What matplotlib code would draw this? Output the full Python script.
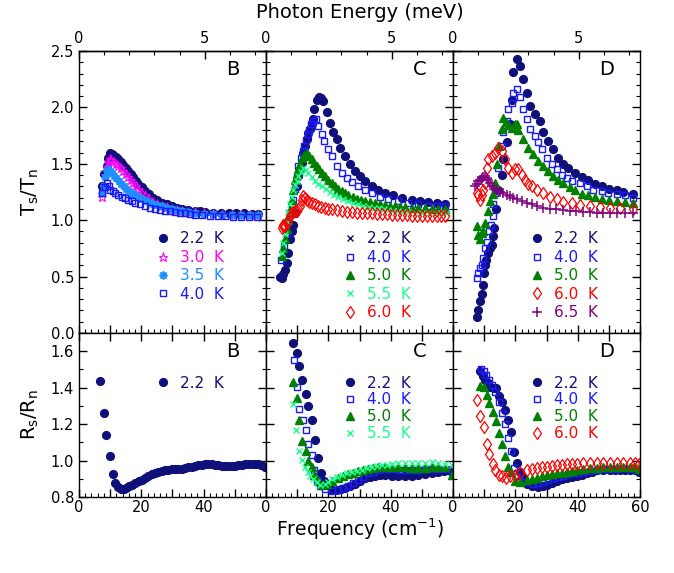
import numpy as np
import matplotlib.pyplot as plt
from matplotlib.lines import Line2D
from matplotlib.ticker import MultipleLocator

CM_PER_MEV = 8.0655   # 1 meV in cm^-1

# ---------------- Transmission ratio Ts/Tn ----------------
# panel B
b22_x = [7.5, 8.1, 8.9, 9.4, 9.95, 10.5, 11.0, 11.8, 12.6, 13.4, 14.2, 15.0, 15.8, 16.6, 17.4, 18.2, 19.0, 20.1, 21.2,
         22.5, 23.8, 25.1, 26.5, 28.1, 29.7, 31.3, 33.0, 35.1, 37.2, 38.8, 40.4, 43.0, 45.5, 48.0, 50.5, 53.0, 55.5, 57.5]
b22_y = [1.30, 1.41, 1.48, 1.55, 1.60, 1.59, 1.58, 1.56, 1.54, 1.515, 1.49, 1.46, 1.435, 1.41, 1.38, 1.35, 1.32, 1.29,
         1.26, 1.23, 1.20, 1.175, 1.155, 1.14, 1.125, 1.11, 1.10, 1.09, 1.085, 1.078, 1.07, 1.068, 1.065, 1.063, 1.06,
         1.06, 1.058, 1.055]
b30_x = [7.5, 8.0, 8.5, 8.9, 9.4, 9.9, 10.4, 11.0, 11.8, 12.6, 13.4, 14.2, 15.0, 15.8, 16.6, 17.4, 18.2, 19.0, 20.1,
         21.2, 22.5, 23.8, 25.1, 26.5, 28.1, 29.7, 31.3, 33.0, 35.1, 37.2, 40.0, 43.0, 46.0, 49.0, 52.0, 55.0, 57.5]
b30_y = [1.21, 1.30, 1.40, 1.47, 1.52, 1.54, 1.53, 1.52, 1.50, 1.48, 1.46, 1.435, 1.41, 1.38, 1.355, 1.33, 1.30,
         1.275, 1.245, 1.22, 1.19, 1.165, 1.145, 1.13, 1.115, 1.10, 1.09, 1.08, 1.075, 1.07, 1.06, 1.055, 1.05, 1.05,
         1.045, 1.045, 1.045]
b35_x = [7.5, 7.9, 8.4, 8.9, 9.4, 9.9, 10.5, 11.2, 12.0, 12.8, 13.6, 14.4, 15.2, 16.0, 17.0, 18.0, 19.0, 20.1, 21.2,
         22.5, 23.8, 25.1, 26.5, 28.1, 29.7, 31.3, 33.0, 35.1, 37.2, 40.0, 43.0, 46.0, 49.0, 52.0, 55.0, 57.5]
b35_y = [1.24, 1.30, 1.38, 1.44, 1.45, 1.44, 1.42, 1.395, 1.37, 1.345, 1.32, 1.30, 1.28, 1.26, 1.24, 1.22, 1.205,
         1.19, 1.175, 1.16, 1.145, 1.135, 1.125, 1.11, 1.10, 1.09, 1.08, 1.072, 1.065, 1.058, 1.053, 1.05, 1.048,
         1.046, 1.045, 1.045]
b40_x = [7.5, 8.2, 8.9, 9.5, 10.0, 10.8, 11.6, 12.6, 13.7, 14.7, 15.8, 16.9, 18.0, 19.6, 21.2, 22.8, 24.4, 26.0,
         27.6, 29.2, 30.8, 32.4, 34.0, 35.6, 37.2, 39.5, 42.0, 44.5, 47.0, 49.5, 52.0, 54.5, 57.0]
b40_y = [1.24, 1.29, 1.33, 1.30, 1.27, 1.255, 1.24, 1.225, 1.21, 1.195, 1.18, 1.168, 1.155, 1.14, 1.125, 1.112,
         1.10, 1.092, 1.085, 1.078, 1.07, 1.065, 1.06, 1.055, 1.05, 1.045, 1.04, 1.037, 1.035, 1.032, 1.03, 1.03, 1.03]

# panel C
c22_x = [4.5, 5.0, 5.6, 6.2, 6.7, 7.2, 7.7, 8.3, 8.8, 9.3, 9.85, 10.4, 11.0, 11.5, 12.0, 12.6, 13.1, 13.6, 14.1,
         14.7, 15.2, 15.5, 16.3, 17.0, 17.7, 18.4, 19.5, 20.5, 21.6, 22.7, 23.7, 25.3, 27.0, 28.6, 30.2, 31.8, 33.9,
         36.0, 38.2, 40.8, 43.5, 46.8, 49.4, 52.1, 54.8, 57.4]
c22_y = [0.50, 0.49, 0.52, 0.56, 0.62, 0.71, 0.83, 0.90, 0.96, 1.065, 1.30, 1.39, 1.45, 1.51, 1.60, 1.66, 1.72,
         1.77, 1.81, 1.85, 1.895, 1.985, 2.07, 2.09, 2.08, 2.06, 1.955, 1.865, 1.78, 1.72, 1.64, 1.57, 1.495, 1.435,
         1.39, 1.345, 1.30, 1.27, 1.24, 1.22, 1.20, 1.18, 1.17, 1.16, 1.155, 1.145]
c40_x = [4.8, 5.7, 6.6, 7.2, 7.7, 8.3, 8.8, 9.3, 9.85, 10.4, 11.2, 11.8, 12.3, 12.9, 13.4, 13.9, 14.4, 15.2, 15.9,
         16.8, 17.9, 18.7, 20.0, 21.1, 22.7, 24.3, 25.9, 27.5, 29.6, 31.8, 33.9, 36.6, 39.3, 42.5, 45.7, 48.9, 52.1,
         54.8, 57.4]
c40_y = [0.65, 0.77, 0.89, 0.98, 1.065, 1.12, 1.18, 1.28, 1.39, 1.48, 1.55, 1.61, 1.66, 1.71, 1.76, 1.80, 1.85,
         1.88, 1.895, 1.835, 1.76, 1.70, 1.63, 1.57, 1.48, 1.42, 1.375, 1.34, 1.30, 1.27, 1.245, 1.21, 1.19, 1.17,
         1.155, 1.14, 1.13, 1.125, 1.125]
c50_x = [5.0, 5.5, 6.1, 6.6, 7.2, 7.7, 8.2, 8.8, 9.3, 9.85, 10.4, 11.0, 11.5, 12.3, 13.1, 13.9, 14.7, 15.5, 16.3,
         17.1, 17.9, 19.0, 20.0, 21.1, 22.1, 23.2, 24.3, 25.3, 26.4, 27.8, 29.1, 30.5, 31.8, 33.4, 35.0, 36.6, 38.2,
         39.8, 41.4, 43.0, 44.7, 46.8, 48.9, 51.0, 53.1, 55.2, 57.4]
c50_y = [0.68, 0.75, 0.83, 0.92, 1.005, 1.09, 1.18, 1.27, 1.36, 1.41, 1.45, 1.50, 1.55, 1.58, 1.60, 1.57, 1.54,
         1.51, 1.48, 1.45, 1.42, 1.39, 1.36, 1.33, 1.30, 1.28, 1.255, 1.24, 1.225, 1.205, 1.19, 1.18, 1.17, 1.16,
         1.15, 1.142, 1.135, 1.13, 1.125, 1.12, 1.115, 1.112, 1.11, 1.105, 1.10, 1.098, 1.095]
c55_x = [5.0, 5.6, 6.1, 6.7, 7.2, 7.7, 8.2, 8.8, 9.3, 9.85, 10.4, 11.2, 12.0, 12.8, 13.6, 14.6, 15.7, 16.8, 17.9,
         19.2, 20.5, 21.8, 23.2, 24.8, 26.4, 28.0, 29.6, 31.2, 32.9, 34.5, 36.1, 37.7, 39.3, 40.9, 42.5, 44.1, 45.7,
         47.8, 50.0, 52.2, 54.3, 56.2, 58.0]
c55_y = [0.71, 0.80, 0.88, 0.98, 1.07, 1.14, 1.21, 1.27, 1.31, 1.35, 1.39, 1.43, 1.465, 1.445, 1.42, 1.38, 1.345,
         1.32, 1.30, 1.275, 1.25, 1.225, 1.205, 1.185, 1.17, 1.155, 1.14, 1.13, 1.12, 1.11, 1.105, 1.098, 1.09,
         1.085, 1.08, 1.075, 1.07, 1.067, 1.065, 1.062, 1.06, 1.06, 1.06]
c60_x = [5.0, 5.3, 5.6, 6.1, 6.6, 7.2, 7.7, 8.2, 8.8, 9.3, 9.85, 10.4, 11.0, 11.5, 12.0, 12.6, 13.1, 13.9, 14.7,
         15.7, 16.8, 17.8, 18.9, 20.0, 21.1, 22.7, 24.3, 25.9, 27.5, 29.1, 30.8, 32.3, 33.9, 35.5, 37.1, 38.7, 40.3,
         41.9, 43.5, 45.1, 46.8, 48.4, 50.0, 51.6, 53.1, 54.8, 56.1, 57.4]
c60_y = [0.93, 0.96, 0.945, 0.95, 0.98, 1.005, 1.04, 1.065, 1.075, 1.08, 1.085, 1.095, 1.13, 1.18, 1.215, 1.195,
         1.18, 1.165, 1.155, 1.14, 1.125, 1.115, 1.11, 1.10, 1.095, 1.088, 1.08, 1.075, 1.07, 1.068, 1.065, 1.062,
         1.06, 1.058, 1.055, 1.052, 1.05, 1.048, 1.045, 1.043, 1.04, 1.038, 1.035, 1.035, 1.035, 1.035, 1.035, 1.035]

# panel D
d22_x = [7.8, 8.1, 8.7, 9.2, 9.5, 9.95, 10.2, 10.6, 11.3, 11.9, 12.4, 12.9, 13.2, 13.8, 14.5, 15.6, 16.1, 17.2,
         18.3, 18.8, 19.4, 20.4, 21.5, 22.6, 23.6, 24.7, 26.3, 27.9, 29.0, 30.6, 32.2, 33.8, 35.4, 37.0, 39.2, 41.3,
         43.4, 45.6, 47.7, 50.2, 52.5, 54.6, 57.9]
d22_y = [0.145, 0.205, 0.28, 0.35, 0.43, 0.53, 0.60, 0.65, 0.71, 0.75, 0.78, 0.86, 0.93, 1.095, 1.27, 1.40, 1.54,
         1.69, 1.85, 2.07, 2.31, 2.43, 2.37, 2.25, 2.13, 2.01, 1.94, 1.88, 1.78, 1.70, 1.63, 1.555, 1.495, 1.465,
         1.42, 1.38, 1.355, 1.325, 1.30, 1.28, 1.265, 1.25, 1.23]
d40_x = [7.6, 8.0, 8.7, 9.2, 9.7, 10.3, 11.0, 11.6, 12.1, 12.7, 12.9, 13.5, 14.5, 15.6, 16.1, 17.2, 17.7, 18.8,
         19.4, 20.6, 21.5, 22.6, 23.6, 24.7, 26.3, 27.4, 28.5, 30.1, 31.7, 33.3, 34.9, 36.5, 38.1, 40.8, 42.9, 45.0,
         47.7, 49.8, 52.5, 55.2, 57.9]
d40_y = [0.485, 0.53, 0.575, 0.60, 0.665, 0.755, 0.81, 0.90, 0.96, 1.035, 1.14, 1.24, 1.465, 1.66, 1.78, 1.88,
         1.985, 2.04, 2.13, 2.16, 2.09, 1.985, 1.895, 1.805, 1.745, 1.69, 1.63, 1.555, 1.495, 1.455, 1.405, 1.375,
         1.35, 1.33, 1.30, 1.27, 1.255, 1.24, 1.23, 1.22, 1.20]
d50_x = [7.6, 8.1, 8.7, 9.2, 9.7, 10.3, 11.3, 11.9, 12.7, 13.5, 14.0, 14.8, 15.6, 16.1, 16.9, 17.7, 18.8, 19.9,
         20.4, 21.0, 22.6, 24.2, 25.8, 27.4, 29.0, 30.6, 32.2, 33.8, 35.4, 37.5, 39.2, 41.3, 43.4, 45.6, 47.7, 50.2,
         52.5, 55.2, 57.9]
d50_y = [0.945, 0.87, 0.83, 0.89, 0.90, 0.975, 1.08, 1.17, 1.23, 1.33, 1.495, 1.66, 1.805, 1.91, 1.87, 1.84,
         1.82, 1.85, 1.85, 1.80, 1.72, 1.64, 1.585, 1.525, 1.48, 1.435, 1.39, 1.36, 1.33, 1.295, 1.27, 1.23, 1.22,
         1.21, 1.19, 1.18, 1.17, 1.16, 1.155]
d60_x = [7.6, 8.1, 8.7, 9.2, 9.7, 10.3, 10.8, 11.3, 12.4, 13.5, 14.5, 15.6, 16.7, 17.7, 18.8, 19.9, 21.0, 22.0,
         23.1, 24.2, 25.3, 26.9, 29.0, 31.1, 33.3, 35.4, 38.1, 40.8, 44.0, 47.2, 50.4, 53.6, 57.9]
d60_y = [1.24, 1.22, 1.18, 1.22, 1.27, 1.33, 1.465, 1.54, 1.57, 1.60, 1.64, 1.615, 1.54, 1.465, 1.42, 1.45, 1.45,
         1.405, 1.36, 1.32, 1.30, 1.27, 1.24, 1.21, 1.185, 1.16, 1.15, 1.135, 1.125, 1.115, 1.11, 1.105, 1.095]
d65_x = [7.1, 7.6, 8.1, 8.6, 9.2, 9.7, 10.3, 10.8, 11.3, 11.9, 12.4, 13.2, 14.0, 15.0, 16.1, 17.2, 18.3, 19.3,
         20.4, 22.0, 23.6, 25.2, 26.9, 29.0, 31.1, 33.2, 35.4, 37.5, 39.5, 41.8, 44.0, 46.1, 48.2, 50.4, 52.5, 55.2,
         57.9]
d65_y = [1.30, 1.32, 1.345, 1.36, 1.375, 1.385, 1.39, 1.375, 1.36, 1.33, 1.30, 1.28, 1.265, 1.25, 1.24, 1.225,
         1.215, 1.20, 1.185, 1.17, 1.155, 1.14, 1.125, 1.11, 1.10, 1.095, 1.09, 1.085, 1.08, 1.075, 1.07, 1.068,
         1.065, 1.065, 1.065, 1.062, 1.06]

# ---------------- Reflection ratio Rs/Rn ----------------
rb22_x = [6.9, 8.0, 8.8, 9.8, 10.9, 11.7, 12.6, 13.6, 14.4, 15.2, 16.0, 17.0, 18.0, 19.1, 20.2, 21.2, 22.3, 23.4,
          24.5, 25.5, 26.6, 27.7, 28.7, 29.8, 30.9, 31.9, 33.0, 34.0, 35.1, 36.2, 37.2, 38.3, 39.4, 40.4, 41.5, 42.6,
          43.6, 44.7, 45.8, 46.8, 47.9, 49.0, 50.0, 51.1, 52.2, 53.2, 54.3, 55.4, 56.4, 57.5, 58.5, 59.8]
rb22_y = [1.438, 1.263, 1.138, 1.024, 0.925, 0.875, 0.855, 0.842, 0.845, 0.852, 0.86, 0.868, 0.876, 0.886, 0.896,
          0.906, 0.916, 0.925, 0.932, 0.938, 0.942, 0.947, 0.95, 0.952, 0.953, 0.954, 0.956, 0.958, 0.962, 0.966,
          0.97, 0.974, 0.978, 0.981, 0.983, 0.981, 0.978, 0.975, 0.972, 0.97, 0.968, 0.969, 0.971, 0.974, 0.977,
          0.979, 0.982, 0.983, 0.983, 0.982, 0.976, 0.962]

rc22_x = [8.8, 9.8, 10.7, 11.7, 12.7, 13.6, 14.7, 15.7, 16.8, 17.6, 18.7, 20.0, 21.1, 22.7, 24.0, 25.3, 27.0, 28.6,
          30.2, 31.8, 33.4, 35.0, 36.6, 38.2, 40.3, 42.5, 44.6, 46.7, 48.9, 51.0, 53.2, 55.3, 57.0, 58.5, 60.0]
rc22_y = [1.644, 1.592, 1.519, 1.441, 1.363, 1.298, 1.222, 1.112, 1.016, 0.93, 0.889, 0.865, 0.84, 0.837, 0.842,
          0.849, 0.86, 0.873, 0.888, 0.902, 0.91, 0.918, 0.92, 0.922, 0.918, 0.914, 0.916, 0.918, 0.921, 0.925,
          0.93, 0.938, 0.942, 0.946, 0.93]
rc40_x = [9.0, 10.0, 10.7, 11.8, 12.7, 13.6, 14.7, 15.5, 16.3, 17.3, 18.9, 21.1, 23.2, 24.8, 26.4, 28.0, 29.6,
          31.2, 32.8, 34.4, 36.0, 38.2, 39.8, 41.4, 43.0, 44.6, 46.8, 48.9, 51.0, 53.2, 55.3, 57.4, 59.6]
rc40_y = [1.552, 1.406, 1.284, 1.225, 1.168, 1.092, 1.03, 0.949, 0.893, 0.86, 0.844, 0.832, 0.84, 0.85, 0.86,
          0.876, 0.893, 0.912, 0.93, 0.94, 0.946, 0.954, 0.955, 0.954, 0.95, 0.946, 0.948, 0.949, 0.952, 0.954,
          0.954, 0.954, 0.935]
rc50_x = [8.8, 9.8, 10.7, 11.7, 12.7, 13.6, 14.7, 15.5, 16.6, 17.9, 19.5, 21.1, 23.2, 24.8, 26.4, 28.0, 29.6,
          31.2, 32.8, 34.4, 36.0, 38.2, 40.3, 42.5, 44.6, 46.8, 48.9, 51.0, 53.2, 55.3, 57.4, 59.6]
rc50_y = [1.433, 1.344, 1.222, 1.108, 1.052, 1.0, 0.967, 0.922, 0.889, 0.865, 0.873, 0.889, 0.906, 0.915, 0.925,
          0.933, 0.941, 0.948, 0.954, 0.958, 0.962, 0.962, 0.962, 0.962, 0.962, 0.96, 0.957, 0.96, 0.962, 0.962,
          0.962, 0.922]
rc55_x = [8.8, 9.6, 10.7, 11.7, 12.5, 13.4, 14.1, 15.2, 16.3, 17.3, 18.9, 20.0, 21.1, 22.7, 24.3, 25.9, 27.5,
          29.1, 30.7, 32.3, 33.9, 35.5, 37.1, 38.7, 40.3, 42.5, 44.6, 46.8, 48.9, 51.0, 53.2, 55.3, 57.4, 59.6]
rc55_y = [1.308, 1.168, 1.052, 1.003, 0.962, 0.938, 0.918, 0.897, 0.881, 0.865, 0.873, 0.885, 0.897, 0.91, 0.922,
          0.93, 0.938, 0.945, 0.951, 0.957, 0.962, 0.968, 0.974, 0.978, 0.983, 0.985, 0.987, 0.987, 0.987, 0.988,
          0.99, 0.987, 0.983, 0.974]

rd22_x = [8.8, 9.5, 10.3, 11.2, 12.0, 13.0, 13.9, 14.6, 15.7, 16.8, 17.6, 18.7, 19.7, 20.5, 21.6, 22.6, 23.7,
          25.3, 27.4, 28.8, 30.1, 31.7, 33.3, 34.9, 36.5, 38.1, 39.7, 41.3, 42.9, 44.5, 46.1, 48.2, 50.4, 52.0,
          53.6, 55.2, 56.8, 58.3, 59.8]
rd22_y = [1.49, 1.466, 1.441, 1.425, 1.406, 1.396, 1.396, 1.352, 1.319, 1.279, 1.222, 1.157, 1.048, 0.987, 0.938,
          0.906, 0.873, 0.86, 0.857, 0.86, 0.865, 0.877, 0.889, 0.898, 0.906, 0.91, 0.914, 0.922, 0.93, 0.938,
          0.946, 0.946, 0.946, 0.948, 0.951, 0.951, 0.951, 0.948, 0.938]
rd40_x = [9.0, 9.8, 10.7, 11.4, 12.5, 13.6, 14.6, 15.7, 16.8, 17.6, 18.6, 19.6, 20.5, 21.6, 23.2, 25.8, 27.4,
          29.0, 30.6, 32.2, 33.8, 35.4, 37.0, 38.6, 40.2, 41.8, 44.0, 46.1, 48.2, 50.4, 52.5, 54.6, 56.8, 58.9]
rd40_y = [1.503, 1.49, 1.47, 1.441, 1.417, 1.376, 1.319, 1.263, 1.2, 1.125, 1.055, 0.959, 0.914, 0.889, 0.881,
          0.873, 0.876, 0.881, 0.893, 0.906, 0.912, 0.918, 0.924, 0.93, 0.934, 0.938, 0.944, 0.949, 0.952, 0.954,
          0.955, 0.957, 0.955, 0.951]
rd50_x = [8.8, 9.8, 10.9, 11.7, 12.8, 13.9, 14.8, 15.7, 16.8, 17.6, 18.6, 20.0, 21.6, 23.7, 25.3, 26.9, 28.5,
          30.1, 31.7, 33.3, 34.9, 36.5, 38.1, 39.7, 41.8, 44.0, 46.1, 48.2, 50.4, 52.5, 54.6, 56.8, 58.3, 59.8]
rd50_y = [1.409, 1.401, 1.36, 1.315, 1.266, 1.217, 1.152, 1.092, 1.027, 0.962, 0.938, 0.889, 0.881, 0.893, 0.9,
          0.906, 0.914, 0.922, 0.926, 0.93, 0.934, 0.938, 0.942, 0.946, 0.952, 0.957, 0.96, 0.962, 0.964, 0.966,
          0.966, 0.966, 0.962, 0.954]
rd60_x = [7.7, 8.8, 9.8, 10.9, 11.7, 12.7, 13.6, 14.6, 15.7, 17.1, 18.4, 20.0, 21.6, 23.7, 25.3, 26.9, 28.5,
          30.1, 31.7, 33.3, 34.9, 36.5, 38.1, 39.7, 41.8, 44.0, 46.1, 48.2, 50.4, 52.5, 54.6, 56.8, 58.3, 59.8]
rd60_y = [1.331, 1.243, 1.185, 1.092, 1.035, 0.979, 0.946, 0.922, 0.914, 0.906, 0.914, 0.922, 0.93, 0.946, 0.952,
          0.957, 0.962, 0.967, 0.97, 0.974, 0.977, 0.979, 0.981, 0.983, 0.985, 0.987, 0.987, 0.987, 0.987, 0.987,
          0.987, 0.987, 0.985, 0.983]

# marker style per temperature
NAVY = '#10107a'
STY = {
    '2.2': dict(marker='o', color=NAVY, mfc=NAVY, ms=5.6),
    '3.0': dict(marker='*', color='#ff00ff', mfc='none', ms=6.5, mew=0.8),
    '3.5': dict(marker=(8, 1, 0), color='#1e8fff', mfc='#1e8fff', ms=6),
    '4.0': dict(marker='s', color='#1a1aff', mfc='none', ms=4.6, mew=1.0),
    '5.0': dict(marker='^', color='#008000', mfc='#008000', ms=5.3),
    '5.5': dict(marker='x', color='#1aff8c', ms=4.0, mew=1.0),
    '6.0': dict(marker='d', color='#ff0000', mfc='none', ms=6.0, mew=0.9),
    '6.5': dict(marker='+', color='#800080', ms=6.5, mew=1.1),
}

top_panels = [
    ('B', [('2.2', b22_x, b22_y), ('3.0', b30_x, b30_y), ('3.5', b35_x, b35_y), ('4.0', b40_x, b40_y)]),
    ('C', [('2.2', c22_x, c22_y), ('4.0', c40_x, c40_y), ('5.0', c50_x, c50_y), ('5.5', c55_x, c55_y),
           ('6.0', c60_x, c60_y)]),
    ('D', [('2.2', d22_x, d22_y), ('4.0', d40_x, d40_y), ('5.0', d50_x, d50_y), ('6.0', d60_x, d60_y),
           ('6.5', d65_x, d65_y)]),
]
bot_panels = [
    ('B', [('2.2', rb22_x, rb22_y)]),
    ('C', [('2.2', rc22_x, rc22_y), ('4.0', rc40_x, rc40_y), ('5.0', rc50_x, rc50_y), ('5.5', rc55_x, rc55_y)]),
    ('D', [('2.2', rd22_x, rd22_y), ('4.0', rd40_x, rd40_y), ('5.0', rd50_x, rd50_y), ('6.0', rd60_x, rd60_y)]),
]

plt.rcParams['font.family'] = 'DejaVu Sans'
plt.rcParams['axes.linewidth'] = 1.0
fig = plt.figure(figsize=(6.74, 5.73), dpi=100)
gs = fig.add_gridspec(2, 3, left=0.1172, right=0.9496, top=0.911, bottom=0.1326,
                      hspace=0, wspace=0, height_ratios=[282, 164])


def add_legend(ax, series, yanchor, spacing, override=None):
    handles, labels, colors = [], [], []
    for t, _, _ in series:
        st = dict(STY[t])
        if override and t in override:
            st.update(override[t])
        handles.append(Line2D([], [], linestyle='none', **st))
        labels.append(f'{t}  K')
        colors.append(STY[t]['color'])
    ax.legend(handles, labels, loc='upper left', bbox_to_anchor=(0.41, yanchor), frameon=False,
              fontsize=11, handlelength=1.0, handletextpad=0.6, labelspacing=spacing,
              borderpad=0, borderaxespad=0, labelcolor=colors)


def style_axis(ax, col):
    ax.set_xlim(0, 60)
    ax.xaxis.set_major_locator(MultipleLocator(10))
    ax.xaxis.set_minor_locator(MultipleLocator(2))
    ax.tick_params(which='both', direction='in', right=True, labelsize=10.5)
    ax.tick_params(which='major', length=6, width=1.0)
    ax.tick_params(which='minor', length=3, width=0.8)
    if col > 0:
        ax.tick_params(labelleft=False)


for col, (letter, series) in enumerate(top_panels):
    ax = fig.add_subplot(gs[0, col])
    for t, x, y in series:
        ax.plot(x, y, linestyle='none', **STY[t])
    style_axis(ax, col)
    ax.set_ylim(0, 2.5)
    ax.yaxis.set_major_locator(MultipleLocator(0.5))
    ax.yaxis.set_minor_locator(MultipleLocator(0.1))
    ax.yaxis.set_major_formatter(plt.FormatStrFormatter('%.1f'))
    ax.tick_params(top=False, labelbottom=False)
    ax.text(0.82, 0.935, letter, transform=ax.transAxes, fontsize=14, ha='center', va='center')
    sec = ax.secondary_xaxis('top', functions=(lambda x: x / CM_PER_MEV, lambda e: e * CM_PER_MEV))
    sec.set_xticks([0, 5])
    sec.xaxis.set_minor_locator(MultipleLocator(1))
    sec.tick_params(which='both', direction='in', labelsize=10.5)
    sec.tick_params(which='major', length=6, width=1.0)
    sec.tick_params(which='minor', length=3, width=0.8)
    override = {'2.2': dict(marker='x', ms=4, mew=1.0)} if letter == 'C' else None
    add_legend(ax, series, 0.36, 0.22, override)
    if col == 0:
        ax.set_ylabel(r'T$_\mathrm{s}$/T$_\mathrm{n}$', fontsize=14, labelpad=7)

for col, (letter, series) in enumerate(bot_panels):
    ax = fig.add_subplot(gs[1, col])
    for t, x, y in series:
        ax.plot(x, y, linestyle='none', **STY[t])
    style_axis(ax, col)
    ax.set_ylim(0.8, 1.7)
    ax.yaxis.set_major_locator(MultipleLocator(0.2))
    ax.yaxis.set_minor_locator(MultipleLocator(0.1))
    ax.yaxis.set_major_formatter(plt.FormatStrFormatter('%.1f'))
    ax.tick_params(top=True)
    ax.tick_params(axis='x', pad=2)
    ticks = [0, 10, 20, 30, 40, 50, 60]
    labs = ['0', '', '20', '', '40', '', '60' if col == 2 else '']
    ax.set_xticks(ticks, labs)
    ax.text(0.82, 0.885, letter, transform=ax.transAxes, fontsize=14, ha='center', va='center')
    add_legend(ax, series, 0.74, 0.12)
    if col == 0:
        ax.set_ylabel(r'R$_\mathrm{s}$/R$_\mathrm{n}$', fontsize=14, labelpad=7)

fig.text(0.534, 0.978, 'Photon Energy (meV)', ha='center', va='center', fontsize=14)
fig.text(0.534, 0.065, r'Frequency (cm$^{-1}$)', ha='center', va='baseline', fontsize=13.5)

fig.savefig('out.png', dpi=100)
